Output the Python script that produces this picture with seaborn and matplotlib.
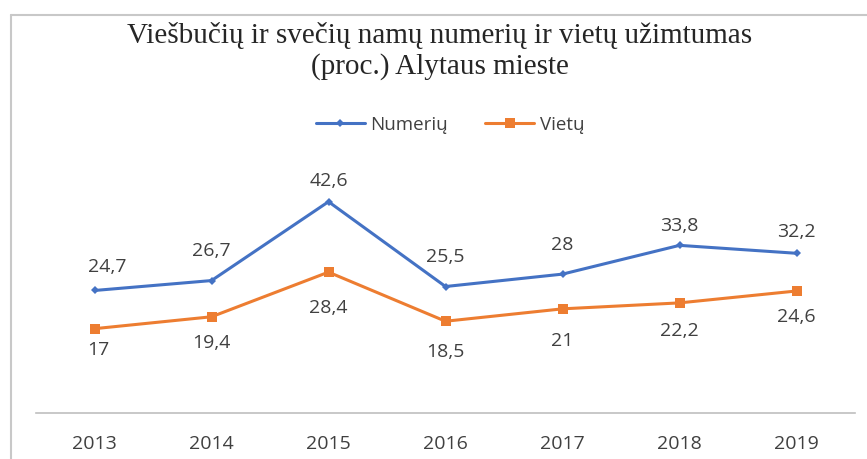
import matplotlib
matplotlib.use("Agg")
import matplotlib.pyplot as plt
import seaborn as sns
import pandas as pd
from matplotlib.lines import Line2D

years = ["2013", "2014", "2015", "2016", "2017", "2018", "2019"]
numeriu = [24.7, 26.7, 42.6, 25.5, 28.0, 33.8, 32.2]
vietu = [17.0, 19.4, 28.4, 18.5, 21.0, 22.2, 24.6]
series_names = ["Numerių", "Vietų"]
title = "Viešbučių ir svečių namų numerių ir vietų užimtumas\n(proc.) Alytaus mieste"

sns.set_style("white")
plt.rcParams["font.family"] = ["Open Sans", "DejaVu Sans"]

df = pd.DataFrame({
    "Metai": years * 2,
    "Reikšmė": numeriu + vietu,
    "Serija": [series_names[0]] * len(years) + [series_names[1]] * len(years),
})

blue = "#4472C4"
orange = "#ED7D31"

fig = plt.figure(figsize=(8.67, 4.59), dpi=100)
ax = fig.add_axes([36 / 867, 1 - 413 / 459, (855 - 36) / 867, (413 - 165) / 459])

sns.lineplot(data=df, x="Metai", y="Reikšmė", hue="Serija", style="Serija",
             palette=[blue, orange], markers=["D", "s"], dashes=False,
             markersize=5, linewidth=2.2, markeredgewidth=0, ax=ax, legend=False,
             sort=False)
for line, ms in zip(ax.lines, [4.5, 7]):
    line.set_markersize(ms)

ax.set_xlim(-0.5, 6.5)
ax.set_ylim(0, 50)
ax.set_xlabel("")
ax.set_ylabel("")
ax.set_yticks([])
for s in ["left", "right", "top"]:
    ax.spines[s].set_visible(False)
ax.spines["bottom"].set_color("#bfbfbf")
ax.spines["bottom"].set_linewidth(1.2)
ax.tick_params(axis="x", length=0, pad=16, labelsize=14, labelcolor="#404040")

def fmt(v):
    return (f"{v:g}").replace(".", ",")

blue_dy = [17, 21, 15, 21, 21, 14, 15]
orange_dy = [-15, -19, -26, -22, -23, -20, -19]
for i, v in enumerate(numeriu):
    dx = 9 if i == 0 else 0
    ax.annotate(fmt(v), (i, v), xytext=(dx, blue_dy[i]), textcoords="offset points",
                ha="center", va="center", fontsize=14, color="#404040")
for i, v in enumerate(vietu):
    dx = 3 if i == 0 else 0
    ax.annotate(fmt(v), (i, v), xytext=(dx, orange_dy[i]), textcoords="offset points",
                ha="center", va="center", fontsize=14, color="#404040")

handles = [
    Line2D([0], [0], color=blue, lw=2.2, marker="D", ms=4.5, mew=0),
    Line2D([0], [0], color=orange, lw=2.2, marker="s", ms=6.5, mew=0),
]
fig.legend(handles, series_names, loc="center", bbox_to_anchor=(450 / 867, 1 - 125 / 459),
           ncol=2, frameon=False, fontsize=13.5, labelcolor="#404040",
           handlelength=2.6, columnspacing=2.0, handletextpad=0.3)

fig.text(440 / 867, 1 - 51 / 459, title, ha="center", va="center",
         fontsize=21, family=["Liberation Serif", "DejaVu Serif"], color="#262626",
         linespacing=1.2)

# chart frame (partially visible)
fig.add_artist(Line2D([11 / 867, 11 / 867], [0, 1 - 15 / 459], color="#c8c8c8", lw=1.5,
                      transform=fig.transFigure))
fig.add_artist(Line2D([11 / 867, 1], [1 - 15 / 459, 1 - 15 / 459], color="#c8c8c8", lw=1.5,
                      transform=fig.transFigure))

fig.savefig("out.png", dpi=100)
